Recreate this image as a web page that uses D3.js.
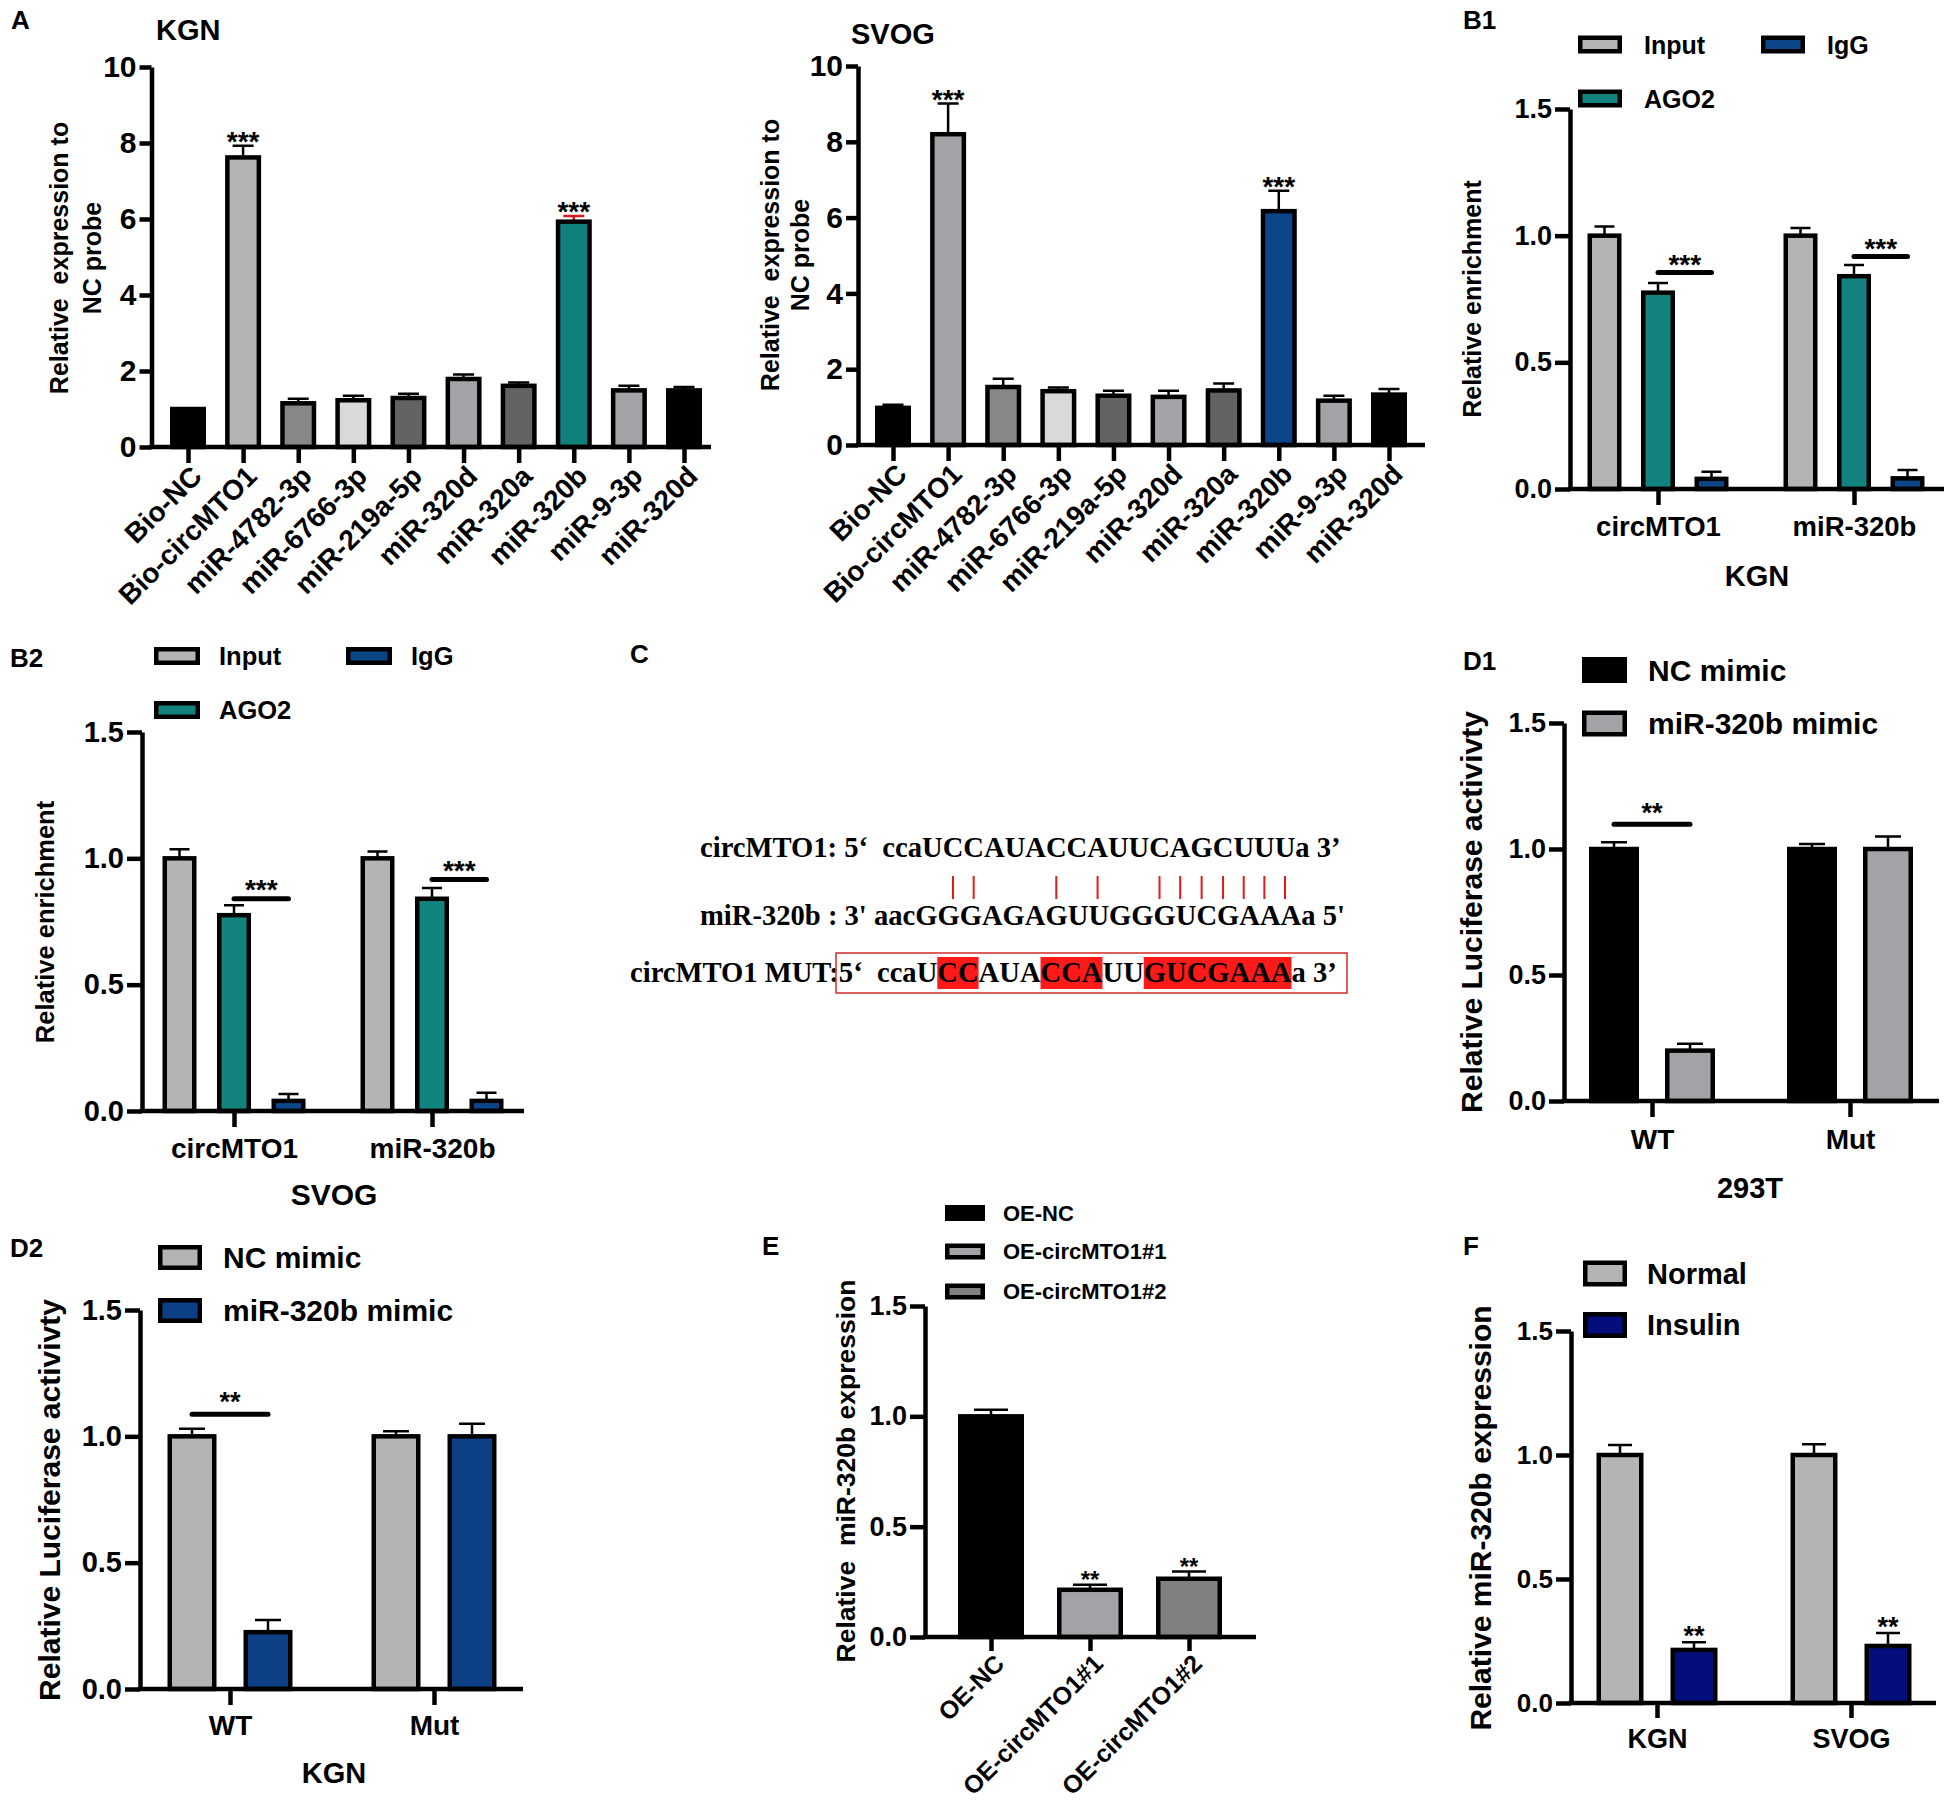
<!DOCTYPE html>
<html>
<head>
<meta charset="utf-8">
<script src="https://cdn.jsdelivr.net/npm/d3@7"></script>
<style>
    body { margin: 0; background: #ffffff; }
    svg { display: block; background: #ffffff; }
</style>
</head>
<body>
<svg id="fig" width="1955" height="1802"></svg>
<script>
// ---- panel A: pull-down ----
const probeNames = ["Bio-NC", "Bio-circMTO1", "miR-4782-3p", "miR-6766-3p", "miR-219a-5p", "miR-320d", "miR-320a", "miR-320b", "miR-9-3p", "miR-320d"];
const kgnPull = [1.0, 7.62, 1.15, 1.23, 1.29, 1.79, 1.61, 5.93, 1.49, 1.49];
const kgnPullErr = [1.02, 7.93, 1.27, 1.35, 1.40, 1.91, 1.70, 6.08, 1.61, 1.58];
const kgnPullSig = ["", "***", "", "", "", "", "", "***", "", ""];
const svogPull = [0.98, 8.2, 1.53, 1.42, 1.30, 1.27, 1.44, 6.17, 1.17, 1.33];
const svogPullErr = [1.06, 9.01, 1.75, 1.52, 1.43, 1.43, 1.62, 6.71, 1.30, 1.48];
const svogPullSig = ["", "***", "", "", "", "", "", "***", "", ""];
const pullTicks = [0, 2, 4, 6, 8, 10];

// ---- panel B: RIP ----
const ripGroups = ["circMTO1", "miR-320b"];
const ripSeries = ["Input", "AGO2", "IgG"];
const ripKgn = [[1.0, 0.775, 0.04], [1.0, 0.84, 0.042]];
const ripKgnErr = [[1.036, 0.813, 0.068], [1.03, 0.884, 0.075]];
const ripKgnBrackets = [{ group: 0, from: 1, to: 2, h: 0.855, label: "***" }, { group: 1, from: 1, to: 2, h: 0.918, label: "***" }];
const ripSvog = [[1.0, 0.775, 0.04], [1.0, 0.84, 0.04]];
const ripSvogErr = [[1.036, 0.814, 0.067], [1.027, 0.883, 0.072]];
const ripSvogBrackets = [{ group: 0, from: 1, to: 2, h: 0.84, label: "***" }, { group: 1, from: 1, to: 2, h: 0.916, label: "***" }];

// ---- panel C: binding site ----
const cTarget = "ccaUCCAUACCAUUCAGCUUUa";
const cMirna = "aacGGGAGAGUUGGGUCGAAAa";
const cMutant = "ccaUCCAUACCAUUGUCGAAAa";
const pairedSites = [4, 5, 9, 11, 14, 15, 16, 17, 18, 19, 20];
const mutatedRuns = [[4, 5], [9, 11], [14, 20]];

// ---- panel D: luciferase ----
const lucGroups = ["WT", "Mut"];
const lucSeries = ["NC mimic", "miR-320b mimic"];
const luc293 = [[1.0, 0.2], [1.0, 1.0]];
const luc293Err = [[1.027, 0.227], [1.02, 1.05]];
const luc293Brackets = [{ group: 0, from: 0, to: 1, h: 1.098, label: "**" }];
const lucKgn = [[1.0, 0.225], [1.0, 1.0]];
const lucKgnErr = [[1.03, 0.273], [1.02, 1.05]];
const lucKgnBrackets = [{ group: 0, from: 0, to: 1, h: 1.087, label: "**" }];

// ---- panel E: overexpression ----
const oeGroups = ["OE-NC", "OE-circMTO1#1", "OE-circMTO1#2"];
const oeValues = [1.0, 0.214, 0.264];
const oeErr = [1.03, 0.237, 0.297];
const oeSig = ["", "**", "**"];

// ---- panel F: insulin ----
const insGroups = ["KGN", "SVOG"];
const insSeries = ["Normal", "Insulin"];
const insValues = [[1.0, 0.214], [1.0, 0.23]];
const insErr = [[1.04, 0.245], [1.043, 0.282]];
const insSig = [["", "**"], ["", "**"]];

const unitTicks = [0, 0.5, 1.0, 1.5];

// colours
const kgnPullColors = ["#000000", "#b4b4b4", "#878787", "#d9d9d9", "#636363", "#a3a3a7", "#636363", "#10807c", "#a3a3a7", "#000000"];
const svogPullColors = ["#000000", "#a3a3a7", "#878787", "#d9d9d9", "#636363", "#a3a3a7", "#636363", "#0c4689", "#a3a3a7", "#000000"];
const ripColors = ["#b4b4b4", "#12837e", "#0c4689"];
const luc293Colors = ["#000000", "#a3a3a7"];
const lucKgnColors = ["#b4b4b4", "#0c3f84"];
const oeColors = ["#000000", "#a3a3a7", "#808080"];
const insColors = ["#b4b4b4", "#050c7c"];

const SANS = '"Liberation Sans", Arial, Helvetica, sans-serif';
const SERIF = '"Liberation Serif", "Times New Roman", serif';
const LINE = 4.5;

const svg = d3.select("#fig");

function addText(txt, x, y, size, opts = {}) {
    return svg.append("text")
        .attr("x", x)
        .attr("y", y)
        .attr("font-size", size)
        .attr("font-weight", opts.weight || "bold")
        .attr("font-family", opts.family || SANS)
        .attr("text-anchor", opts.anchor || "start")
        .style("white-space", "pre")
        .text(txt);
}

function yLabel(lines, xs, cy, size) {
    lines.forEach((t, i) => {
        svg.append("text")
            .attr("transform", `translate(${xs[i]},${cy}) rotate(-90)`)
            .attr("text-anchor", "middle")
            .attr("font-size", size)
            .attr("font-weight", "bold")
            .attr("font-family", SANS)
            .style("white-space", "pre")
            .text(t);
    });
}

function legend(names, colors, spots, w, h, gap, size) {
    names.forEach((name, i) => {
        const [lx, ly] = spots[i];
        svg.append("rect")
            .attr("x", lx + LINE / 2)
            .attr("y", ly - h / 2 + LINE / 2)
            .attr("width", w - LINE)
            .attr("height", h - LINE)
            .attr("fill", colors[i])
            .attr("stroke", "#000")
            .attr("stroke-width", LINE);
        addText(name, lx + gap, ly + 0.36 * size, size);
    });
}

function drawPanel(p) {
    const g = svg.append("g");
    const y = d3.scaleLinear().domain([0, p.yMax]).range([p.y0, p.yTop]);
    const x = d3.scalePoint().domain(d3.range(p.labels.length)).range(p.groupRange);
    const nS = p.values[0].length;
    const half = (nS - 1) * (p.step || 0) / 2;
    const off = d3.scalePoint().domain(d3.range(nS)).range([-half, half]);
    const offset = si => (nS > 1 ? off(si) : 0);

    const bars = p.values.flatMap((row, gi) => row.map((v, si) => ({
        gi, si, v,
        e: p.errors[gi][si],
        sig: p.stars ? p.stars[gi][si] : "",
        cx: x(gi) + offset(si)
    })));

    // error bars (upper only)
    g.selectAll(".err")
        .data(bars)
        .enter()
        .append("path")
        .attr("d", d => `M${d.cx},${y(d.v)}V${y(d.e)}M${d.cx - p.capW / 2},${y(d.e)}H${d.cx + p.capW / 2}`)
        .attr("fill", "none")
        .attr("stroke", d => (p.errColor ? p.errColor(d) : "#000"))
        .attr("stroke-width", 2.5);

    g.selectAll(".bar")
        .data(bars)
        .enter()
        .append("rect")
        .attr("x", d => d.cx - (p.barW - LINE) / 2)
        .attr("width", p.barW - LINE)
        .attr("y", d => y(d.v))
        .attr("height", d => p.y0 - y(d.v))
        .attr("fill", d => p.color(d))
        .attr("stroke", "#000")
        .attr("stroke-width", LINE);

    // y axis
    const ya = g.append("g")
        .attr("transform", `translate(${p.axisX},0)`)
        .call(d3.axisLeft(y).tickValues(p.ticks).tickFormat(p.fmt)
            .tickSize(p.tickLen).tickSizeOuter(0).tickPadding(p.tickPad));
    ya.selectAll("path, line").attr("stroke", "#000").attr("stroke-width", LINE);
    ya.selectAll("text")
        .attr("font-size", p.tickFont)
        .attr("font-weight", "bold")
        .attr("font-family", SANS)
        .attr("fill", "#000");

    // x axis
    const xa = g.append("g")
        .attr("transform", `translate(0,${p.y0})`)
        .call(d3.axisBottom(x).tickFormat(i => p.labels[i]).tickSize(p.xTick).tickSizeOuter(0));
    xa.select(".domain").remove();
    xa.append("line")
        .attr("x1", p.axisX - LINE / 2)
        .attr("x2", p.axisEnd)
        .attr("stroke", "#000")
        .attr("stroke-width", LINE);
    xa.selectAll(".tick line").attr("stroke", "#000").attr("stroke-width", LINE);
    const xt = xa.selectAll(".tick text")
        .attr("font-size", p.labelFont)
        .attr("font-weight", "bold")
        .attr("font-family", SANS)
        .attr("fill", "#000");
    if (p.rotate) {
        xt.attr("x", 0).attr("y", 0).attr("dy", "0.35em")
            .attr("text-anchor", "end")
            .attr("transform", `translate(${p.rotDx},${p.xTick + p.rotDy}) rotate(-45)`);
    } else {
        xt.attr("y", p.labelBase - p.y0).attr("dy", 0);
    }

    // stars above bars
    g.selectAll(".star")
        .data(bars.filter(d => d.sig))
        .enter()
        .append("text")
        .attr("x", d => d.cx)
        .attr("y", d => y(d.e) - p.starLift + 0.55 * p.starFont)
        .attr("text-anchor", "middle")
        .attr("font-size", p.starFont)
        .attr("font-weight", "bold")
        .attr("font-family", SANS)
        .text(d => d.sig);

    // significance brackets
    (p.brackets || []).forEach(b => {
        const x1 = x(b.group) + offset(b.from);
        const x2 = x(b.group) + offset(b.to);
        g.append("line")
            .attr("x1", x1).attr("x2", x2)
            .attr("y1", y(b.h)).attr("y2", y(b.h))
            .attr("stroke", "#000")
            .attr("stroke-width", 5)
            .attr("stroke-linecap", "round");
        g.append("text")
            .attr("x", (x1 + x2) / 2)
            .attr("y", y(b.h) - p.bracketLift + 0.55 * p.starFont)
            .attr("text-anchor", "middle")
            .attr("font-size", p.starFont)
            .attr("font-weight", "bold")
            .attr("font-family", SANS)
            .text(b.label);
    });
}

function drawSequences() {
    const g = svg.append("g")
        .attr("font-family", SERIF)
        .attr("font-weight", "bold")
        .attr("font-size", 28.6);
    const rows = [
        { prefix: "circMTO1: 5‘  ", seq: cTarget, suffix: " 3’", x: 700, y: 857 },
        { prefix: "miR-320b : 3' ", seq: cMirna, suffix: " 5'", x: 700, y: 925 },
        { prefix: "circMTO1 MUT:5‘  ", seq: cMutant, suffix: " 3’", x: 630, y: 982 }
    ];
    const nodes = rows.map(r => g.append("text")
        .attr("x", r.x)
        .attr("y", r.y)
        .attr("xml:space", "preserve")
        .style("white-space", "pre")
        .text(r.prefix + r.seq + r.suffix)
        .node());
    const charBox = (row, i) => nodes[row].getExtentOfChar(rows[row].prefix.length + i);

    pairedSites.forEach(i => {
        const b = charBox(0, i);
        g.append("line")
            .attr("x1", b.x + b.width / 2).attr("x2", b.x + b.width / 2)
            .attr("y1", 876).attr("y2", 899)
            .attr("stroke", "#e41a1c")
            .attr("stroke-width", 2);
    });

    mutatedRuns.forEach(([a, b]) => {
        const s = charBox(2, a);
        const e = charBox(2, b);
        g.insert("rect", "text")
            .attr("x", s.x)
            .attr("width", e.x + e.width - s.x)
            .attr("y", 957)
            .attr("height", 32)
            .attr("fill", "#ff1a1a");
    });

    g.append("rect")
        .attr("x", 836).attr("y", 953)
        .attr("width", 511).attr("height", 40)
        .attr("fill", "none")
        .attr("stroke", "#d42a2a")
        .attr("stroke-width", 1.5);
}

const fmt1 = d3.format(".1f");
const fmtInt = d3.format("d");

// A - KGN
drawPanel({
    labels: probeNames, values: kgnPull.map(v => [v]), errors: kgnPullErr.map(v => [v]), stars: kgnPullSig.map(s => [s]),
    color: d => kgnPullColors[d.gi], errColor: d => (d.gi === 7 ? "#d7191c" : "#000"),
    axisX: 151.5, axisEnd: 711, y0: 447, yTop: 67, yMax: 10, ticks: pullTicks, fmt: fmtInt,
    tickLen: 12, tickPad: 3, tickFont: 30, groupRange: [188, 684], barW: 36, capW: 21,
    xTick: 16, labelFont: 28, rotate: true, rotDx: 8, rotDy: 8, starFont: 28, starLift: 10
});
addText("KGN", 156, 40, 29);
yLabel(["Relative  expression to", "NC probe"], [68, 101], 258, 25);

// A - SVOG
drawPanel({
    labels: probeNames, values: svogPull.map(v => [v]), errors: svogPullErr.map(v => [v]), stars: svogPullSig.map(s => [s]),
    color: d => svogPullColors[d.gi],
    axisX: 858, axisEnd: 1425, y0: 445, yTop: 66, yMax: 10, ticks: pullTicks, fmt: fmtInt,
    tickLen: 12, tickPad: 3, tickFont: 30, groupRange: [893, 1389], barW: 36, capW: 21,
    xTick: 16, labelFont: 28, rotate: true, rotDx: 8, rotDy: 8, starFont: 28, starLift: 10
});
addText("SVOG", 851, 44, 29);
yLabel(["Relative  expression to", "NC probe"], [779, 809], 255, 25);

// B1
drawPanel({
    labels: ripGroups, values: ripKgn, errors: ripKgnErr, brackets: ripKgnBrackets,
    color: d => ripColors[d.si],
    axisX: 1570, axisEnd: 1944, y0: 489, yTop: 109, yMax: 1.5, ticks: unitTicks, fmt: fmt1,
    tickLen: 15, tickPad: 3, tickFont: 27, groupRange: [1658, 1854], step: 53.5, barW: 34, capW: 20,
    xTick: 16, labelFont: 27.5, labelBase: 536, starFont: 28, bracketLift: 14
});
legend(ripSeries, ripColors, [[1578, 44.5], [1578, 98.5], [1761, 44.5]], 44, 18, 66, 25);
addText("KGN", 1757, 586, 29, { anchor: "middle" });
yLabel(["Relative enrichment"], [1481], 299, 25);

// B2
drawPanel({
    labels: ripGroups, values: ripSvog, errors: ripSvogErr, brackets: ripSvogBrackets,
    color: d => ripColors[d.si],
    axisX: 142, axisEnd: 524, y0: 1111, yTop: 732, yMax: 1.5, ticks: unitTicks, fmt: fmt1,
    tickLen: 15, tickPad: 3, tickFont: 29, groupRange: [234, 432], step: 54.5, barW: 34, capW: 20,
    xTick: 16, labelFont: 28, labelBase: 1158, starFont: 28, bracketLift: 15
});
legend(ripSeries, ripColors, [[154, 656], [154, 710], [346, 656]], 46, 18, 65, 25.5);
addText("SVOG", 334, 1205, 30, { anchor: "middle" });
yLabel(["Relative enrichment"], [54], 922, 25.5);

// C
drawSequences();

// D1
drawPanel({
    labels: lucGroups, values: luc293, errors: luc293Err, brackets: luc293Brackets,
    color: d => luc293Colors[d.si],
    axisX: 1564, axisEnd: 1939, y0: 1101, yTop: 723, yMax: 1.5, ticks: unitTicks, fmt: fmt1,
    tickLen: 15, tickPad: 3, tickFont: 27, groupRange: [1652, 1850], step: 76, barW: 50, capW: 26,
    xTick: 16, labelFont: 28, labelBase: 1149, starFont: 27, bracketLift: 17
});
legend(lucSeries, luc293Colors, [[1582, 670], [1582, 723.5]], 45, 26, 66, 30);
addText("293T", 1750, 1198, 29, { anchor: "middle" });
yLabel(["Relative Luciferase activivty"], [1482], 912, 30);

// D2
drawPanel({
    labels: lucGroups, values: lucKgn, errors: lucKgnErr, brackets: lucKgnBrackets,
    color: d => lucKgnColors[d.si],
    axisX: 140, axisEnd: 523, y0: 1689, yTop: 1310, yMax: 1.5, ticks: unitTicks, fmt: fmt1,
    tickLen: 15, tickPad: 3, tickFont: 29, groupRange: [230, 434], step: 76, barW: 49, capW: 26,
    xTick: 16, labelFont: 28, labelBase: 1735, starFont: 27, bracketLift: 18
});
legend(lucSeries, lucKgnColors, [[158, 1257.5], [158, 1310.5]], 44, 25, 65, 30);
addText("KGN", 334, 1783, 29, { anchor: "middle" });
yLabel(["Relative Luciferase activivty"], [59.5], 1500, 30);

// E
drawPanel({
    labels: oeGroups, values: oeValues.map(v => [v]), errors: oeErr.map(v => [v]), stars: oeSig.map(s => [s]),
    color: d => oeColors[d.gi],
    axisX: 925, axisEnd: 1256, y0: 1637, yTop: 1306, yMax: 1.5, ticks: unitTicks, fmt: fmt1,
    tickLen: 15, tickPad: 3, tickFont: 27, groupRange: [991, 1189], barW: 66, capW: 34,
    xTick: 14, labelFont: 25, rotate: true, rotDx: 8, rotDy: 8, starFont: 24, starLift: 10
});
legend(oeGroups, oeColors, [[945, 1213], [945, 1251.5], [945, 1291.5]], 40, 16, 58, 22);
yLabel(["Relative  miR-320b expression"], [855], 1471, 26.5);

// F
drawPanel({
    labels: insGroups, values: insValues, errors: insErr, stars: insSig,
    color: d => insColors[d.si],
    axisX: 1571, axisEnd: 1936, y0: 1703, yTop: 1331, yMax: 1.5, ticks: unitTicks, fmt: fmt1,
    tickLen: 15, tickPad: 3, tickFont: 26, groupRange: [1657, 1851], step: 74, barW: 47, capW: 24,
    xTick: 15, labelFont: 27, labelBase: 1748, starFont: 27, starLift: 12
});
legend(insSeries, insColors, [[1583, 1273.5], [1583, 1325]], 44, 26, 64, 29);
yLabel(["Relative miR-320b expression"], [1491], 1518, 30);

// panel letters
[["A", 11, 29], ["B1", 1463, 29], ["B2", 10, 667], ["C", 630, 663],
 ["D1", 1463, 670], ["D2", 10, 1257], ["E", 762, 1255], ["F", 1463, 1255]]
    .forEach(([t, lx, ly]) => addText(t, lx, ly, 26));
</script>
</body>
</html>
